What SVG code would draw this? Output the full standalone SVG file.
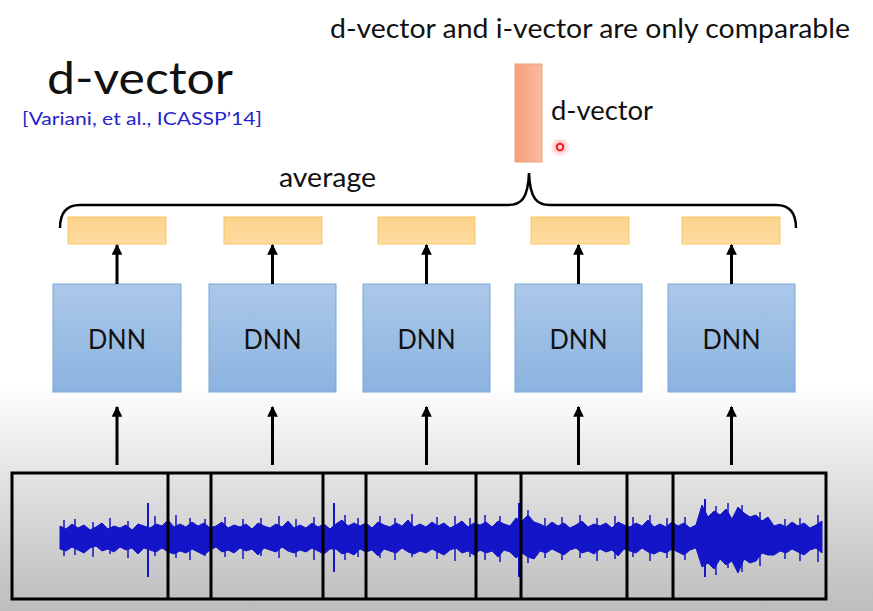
<svg xmlns="http://www.w3.org/2000/svg" width="873" height="611" viewBox="0 0 873 611">
<defs>
<linearGradient id="bg" x1="0" y1="0" x2="0" y2="1">
<stop offset="0" stop-color="#ffffff"/>
<stop offset="0.4" stop-color="#e3e3e3"/>
<stop offset="1" stop-color="#bdbdbd"/>
</linearGradient>
<linearGradient id="dnn" x1="0" y1="0" x2="0" y2="1">
<stop offset="0" stop-color="#abc8e9"/>
<stop offset="1" stop-color="#8bb3df"/>
</linearGradient>
<linearGradient id="org" x1="0" y1="0" x2="0" y2="1">
<stop offset="0" stop-color="#fdd38c"/>
<stop offset="1" stop-color="#fddb9f"/>
</linearGradient>
<linearGradient id="dv" x1="0" y1="0" x2="1" y2="0">
<stop offset="0" stop-color="#f79e7b"/>
<stop offset="1" stop-color="#fbbb9e"/>
</linearGradient>
<radialGradient id="glow">
<stop offset="0" stop-color="#ff3030" stop-opacity="0.5"/>
<stop offset="1" stop-color="#ff3030" stop-opacity="0"/>
</radialGradient>
<marker id="ah" viewBox="0 0 10 10" refX="9" refY="5" markerWidth="3.6" markerHeight="3.6" orient="auto" markerUnits="strokeWidth">
<path d="M0,0 L10,5 L0,10 z" fill="#000"/>
</marker>
<style>
text{font-family:Lato,"Open Sans","Liberation Sans",sans-serif;fill:#111}
.dnnbox{fill:url(#dnn);stroke:#79a6d8;stroke-width:1}
.obox{fill:url(#org);stroke:#f8c566;stroke-width:1}
.lbl{font-size:27px;text-anchor:middle}
.arr{stroke:#000;stroke-width:3;fill:none;marker-end:url(#ah)}
.frame{stroke:#000;stroke-width:3;fill:none}
</style>
</defs>
<rect x="0" y="0" width="873" height="611" fill="#fff"/>
<rect x="0" y="385" width="873" height="226" fill="url(#bg)"/>

<text x="47" y="94" font-size="45" textLength="186" lengthAdjust="spacingAndGlyphs">d-vector</text>
<text x="22" y="125" font-size="18" textLength="240" lengthAdjust="spacingAndGlyphs" style="fill:#2424cc">[Variani, et al., ICASSP’14]</text>
<text x="330" y="38" font-size="26" textLength="520" lengthAdjust="spacingAndGlyphs">d-vector and i-vector are only comparable</text>

<g id="dvector">
<rect x="515" y="64" width="27" height="98" fill="url(#dv)" stroke="#efa27e" stroke-width="1"/>
<text x="551" y="120" font-size="26" textLength="102" lengthAdjust="spacingAndGlyphs">d-vector</text>
</g>
<g id="pointer">
<circle cx="560" cy="147" r="10" fill="url(#glow)"/>
<circle cx="560" cy="147" r="3.2" fill="#ffe0e0" stroke="#ff1a1a" stroke-width="2"/>
</g>

<g id="average">
<text x="279" y="187" font-size="26" textLength="97" lengthAdjust="spacingAndGlyphs">average</text>
<path d="M60,228 C60,213 66,205 80,205 L508,205 C521,205 528,199 529,173 C530,199 537,205 550,205 L776,205 C790,205 796,213 796,228" fill="none" stroke="#000" stroke-width="2.5"/>
</g>

<g id="out1"><rect class="obox" x="68" y="217" width="98" height="27"/></g>
<g id="out2"><rect class="obox" x="224" y="217" width="98" height="27"/></g>
<g id="out3"><rect class="obox" x="378" y="217" width="97" height="27"/></g>
<g id="out4"><rect class="obox" x="531" y="217" width="98" height="27"/></g>
<g id="out5"><rect class="obox" x="682" y="217" width="98" height="27"/></g>

<g id="dnn1"><rect class="dnnbox" x="53" y="284" width="128" height="108"/><text class="lbl" x="117" y="349" textLength="58" lengthAdjust="spacingAndGlyphs">DNN</text></g>
<g id="dnn2"><rect class="dnnbox" x="209" y="284" width="127" height="108"/><text class="lbl" x="272.5" y="349" textLength="58" lengthAdjust="spacingAndGlyphs">DNN</text></g>
<g id="dnn3"><rect class="dnnbox" x="363" y="284" width="127" height="108"/><text class="lbl" x="426.5" y="349" textLength="58" lengthAdjust="spacingAndGlyphs">DNN</text></g>
<g id="dnn4"><rect class="dnnbox" x="515" y="284" width="127" height="108"/><text class="lbl" x="578.5" y="349" textLength="58" lengthAdjust="spacingAndGlyphs">DNN</text></g>
<g id="dnn5"><rect class="dnnbox" x="668" y="284" width="127" height="108"/><text class="lbl" x="731.5" y="349" textLength="58" lengthAdjust="spacingAndGlyphs">DNN</text></g>

<g id="connectors">
<line class="arr" x1="117" y1="284" x2="117" y2="245"/>
<line class="arr" x1="272.5" y1="284" x2="272.5" y2="245"/>
<line class="arr" x1="426.5" y1="284" x2="426.5" y2="245"/>
<line class="arr" x1="578.5" y1="284" x2="578.5" y2="245"/>
<line class="arr" x1="731.5" y1="284" x2="731.5" y2="245"/>
<line class="arr" x1="117" y1="465" x2="117" y2="407"/>
<line class="arr" x1="272.5" y1="465" x2="272.5" y2="407"/>
<line class="arr" x1="426.5" y1="465" x2="426.5" y2="407"/>
<line class="arr" x1="578.5" y1="465" x2="578.5" y2="407"/>
<line class="arr" x1="731.5" y1="465" x2="731.5" y2="407"/>
</g>

<g id="waveform">
<path fill="#1414c8" stroke="#1414c8" stroke-width="1" stroke-linejoin="miter" d="M60,526 L66,529 72,524 78,528 84,525 90,530 96,527 102,523 108,529 114,526 120,528 126,525 132,530 138,524 144,526 150,528 156,524 162,526 168,520 174,527 180,524 186,527 192,522 198,526 204,523 210,528 216,526 222,522 228,528 234,525 240,527 246,524 252,529 258,523 264,526 270,528 276,524 282,527 288,521 294,528 300,525 306,528 312,523 318,527 324,524 330,529 336,524 342,520 348,526 354,523 360,526 366,523 372,528 378,522 384,525 390,527 396,523 402,526 408,520 414,527 420,524 426,527 432,522 438,526 444,523 450,528 456,525 462,521 468,527 474,523 480,525 486,522 492,527 498,521 504,524 510,526 516,518 522,521 528,515 534,522 540,524 546,527 552,522 558,526 564,523 570,528 576,525 582,521 588,527 594,524 600,526 606,523 612,528 618,522 624,525 630,527 636,523 642,526 648,520 654,527 660,524 666,527 672,522 678,526 684,523 690,528 696,525 702,505 708,517 714,511 720,515 726,509 732,519 738,507 744,513 750,517 756,515 762,521 768,517 774,526 780,524 786,527 792,522 798,526 804,523 810,528 816,525 822,521 L822,553 816,548 810,550 804,555 798,552 792,549 786,553 780,551 774,555 768,555 762,553 756,561 750,563 744,559 738,573 732,561 726,565 720,559 714,569 708,563 702,567 696,548 690,550 684,555 678,552 672,549 666,553 660,551 654,554 648,552 642,548 636,553 630,551 624,549 618,556 612,550 606,552 600,549 594,554 588,551 582,553 576,548 570,550 564,555 558,552 552,549 546,553 540,551 534,559 528,557 522,553 516,558 510,552 504,550 498,557 492,551 486,553 480,550 474,555 468,551 462,553 456,548 450,550 444,555 438,552 432,549 426,553 420,551 414,554 408,552 402,548 396,553 390,551 384,549 378,556 372,550 366,552 360,549 354,555 348,552 342,554 336,549 330,549 324,554 318,551 312,548 306,552 300,550 294,553 288,551 282,547 276,552 270,550 264,548 258,555 252,549 246,551 240,548 234,553 228,550 222,552 216,547 210,550 204,555 198,552 192,549 186,553 180,551 174,554 168,552 162,548 156,552 150,550 144,548 138,554 132,548 126,550 120,547 114,552 108,549 102,551 96,546 90,548 84,553 78,550 72,547 66,551 60,549 Z"/>
<path fill="none" stroke="#1414c8" stroke-width="1.5" d="M64,520V556 M75,519V555 M93,522V557 M110,518V554 M128,521V558 M155,516V556 M176,515V558 M190,518V560 M205,519V556 M225,517V557 M243,519V559 M261,518V556 M279,516V558 M296,519V557 M314,517V560 M345,515V560 M358,518V557 M380,516V558 M395,518V560 M412,514V557 M437,517V559 M455,516V561 M470,518V557 M485,515V560 M500,516V562 M528,510V563 M545,518V558 M562,517V560 M580,515V558 M597,518V561 M615,516V559 M633,517V557 M650,515V561 M667,518V558 M685,517V560 M716,506V575 M728,503V568 M742,505V572 M760,512V566 M785,519V559 M800,518V561 M818,515V562"/>
<g stroke="#1414c8" stroke-width="2">
<line x1="148" y1="503" x2="148" y2="577"/>
<line x1="334" y1="503" x2="334" y2="572"/>
<line x1="519" y1="503" x2="519" y2="577"/>
<line x1="705" y1="499" x2="705" y2="577"/>
</g>
</g>

<g id="frames">
<rect class="frame" x="12" y="473" width="814" height="126"/>
<line class="frame" x1="168" y1="473" x2="168" y2="599"/>
<line class="frame" x1="211" y1="473" x2="211" y2="599"/>
<line class="frame" x1="323" y1="473" x2="323" y2="599"/>
<line class="frame" x1="366" y1="473" x2="366" y2="599"/>
<line class="frame" x1="476" y1="473" x2="476" y2="599"/>
<line class="frame" x1="521" y1="473" x2="521" y2="599"/>
<line class="frame" x1="627" y1="473" x2="627" y2="599"/>
<line class="frame" x1="673" y1="473" x2="673" y2="599"/>
</g>
</svg>
